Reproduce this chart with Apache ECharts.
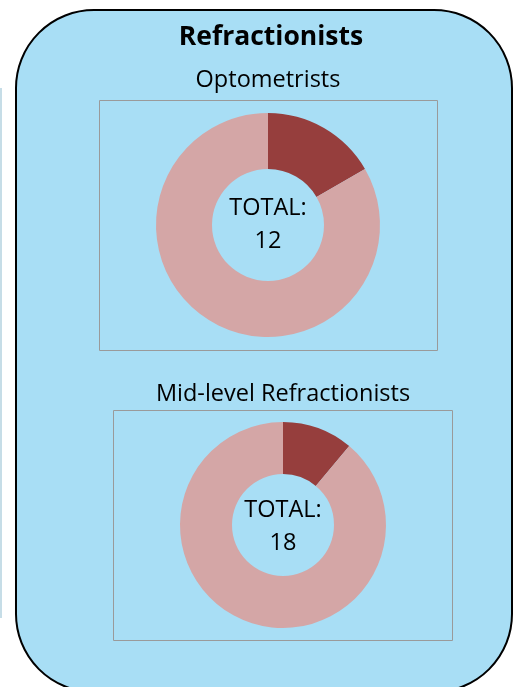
<!DOCTYPE html>
<html>
<head>
<meta charset="utf-8">
<script src="https://cdn.jsdelivr.net/npm/echarts@6/dist/echarts.min.js"></script>
<style>
  html, body { margin: 0; padding: 0; background: #ffffff; }
  #chart { width: 518px; height: 687px; }
</style>
</head>
<body>
<div id="chart"></div>
<script>
// data
const panelTitle = 'Refractionists';
const categories = ['Optometrists', 'Mid-level Refractionists'];
const segmentNames = ['Highlighted', 'Other'];
const highlightValues = [2, 2];
const otherValues = [10, 16];

const FONT = '"Open Sans", Lato, sans-serif';
const BG = '#a8def5';
const DARK = '#963e3d';
const LIGHT = '#d4a6a6';

// layout of each donut (pixels)
const donuts = [
    { cx: 268, cy: 225, r0: 56, r1: 112, box: [99, 100, 338, 250], titleY: 80, totalY: 225 },
    { cx: 283, cy: 525, r0: 51, r1: 103, box: [113, 410, 339, 230], titleY: 394, totalY: 527 }
];

const chart = echarts.init(document.getElementById('chart'), null, { renderer: 'canvas' });

const series = [];
const graphics = [
    // neighbouring panel sliver on the left
    { type: 'rect', shape: { x: 0, y: 88, width: 2, height: 530 }, style: { fill: '#c6dde7' }, z: 0 },
    // main rounded panel
    {
        type: 'rect',
        shape: { x: 16, y: 10, width: 496, height: 682, r: 78 },
        style: { fill: BG, stroke: '#000', lineWidth: 2 },
        z: 0
    },
    {
        type: 'text', x: 271, y: 37, z: 10,
        style: { text: panelTitle, fontFamily: FONT, fontSize: 26.5, fontWeight: 'bold', fill: '#000',
                 align: 'center', verticalAlign: 'middle' }
    }
];

categories.forEach(function (cat, i) {
    const d = donuts[i];
    const total = highlightValues[i] + otherValues[i];
    graphics.push({
        type: 'rect', z: 1,
        shape: { x: d.box[0] + 0.5, y: d.box[1] + 0.5, width: d.box[2], height: d.box[3] },
        style: { fill: 'none', stroke: '#9a9a9a', lineWidth: 1 }
    });
    graphics.push({
        type: 'text', x: d.cx, y: d.titleY, z: 10,
        style: { text: cat, fontFamily: FONT, fontSize: 23.5, fill: '#000', align: 'center', verticalAlign: 'middle' }
    });
    graphics.push({
        type: 'text', x: d.cx, y: d.totalY, z: 10,
        style: { text: 'TOTAL:\n' + total, fontFamily: FONT, fontSize: 23.5, lineHeight: 33, fill: '#000',
                 align: 'center', verticalAlign: 'middle' }
    });
    series.push({
        type: 'pie',
        center: [d.cx, d.cy],
        radius: [d.r0, d.r1],
        startAngle: 90,
        clockwise: true,
        silent: true,
        animation: false,
        label: { show: false },
        labelLine: { show: false },
        itemStyle: { borderWidth: 0 },
        data: [
            { name: segmentNames[0], value: highlightValues[i], itemStyle: { color: DARK } },
            { name: segmentNames[1], value: otherValues[i], itemStyle: { color: LIGHT } }
        ]
    });
});

chart.setOption({
    backgroundColor: '#ffffff',
    animation: false,
    graphic: graphics,
    series: series
});
</script>
</body>
</html>
